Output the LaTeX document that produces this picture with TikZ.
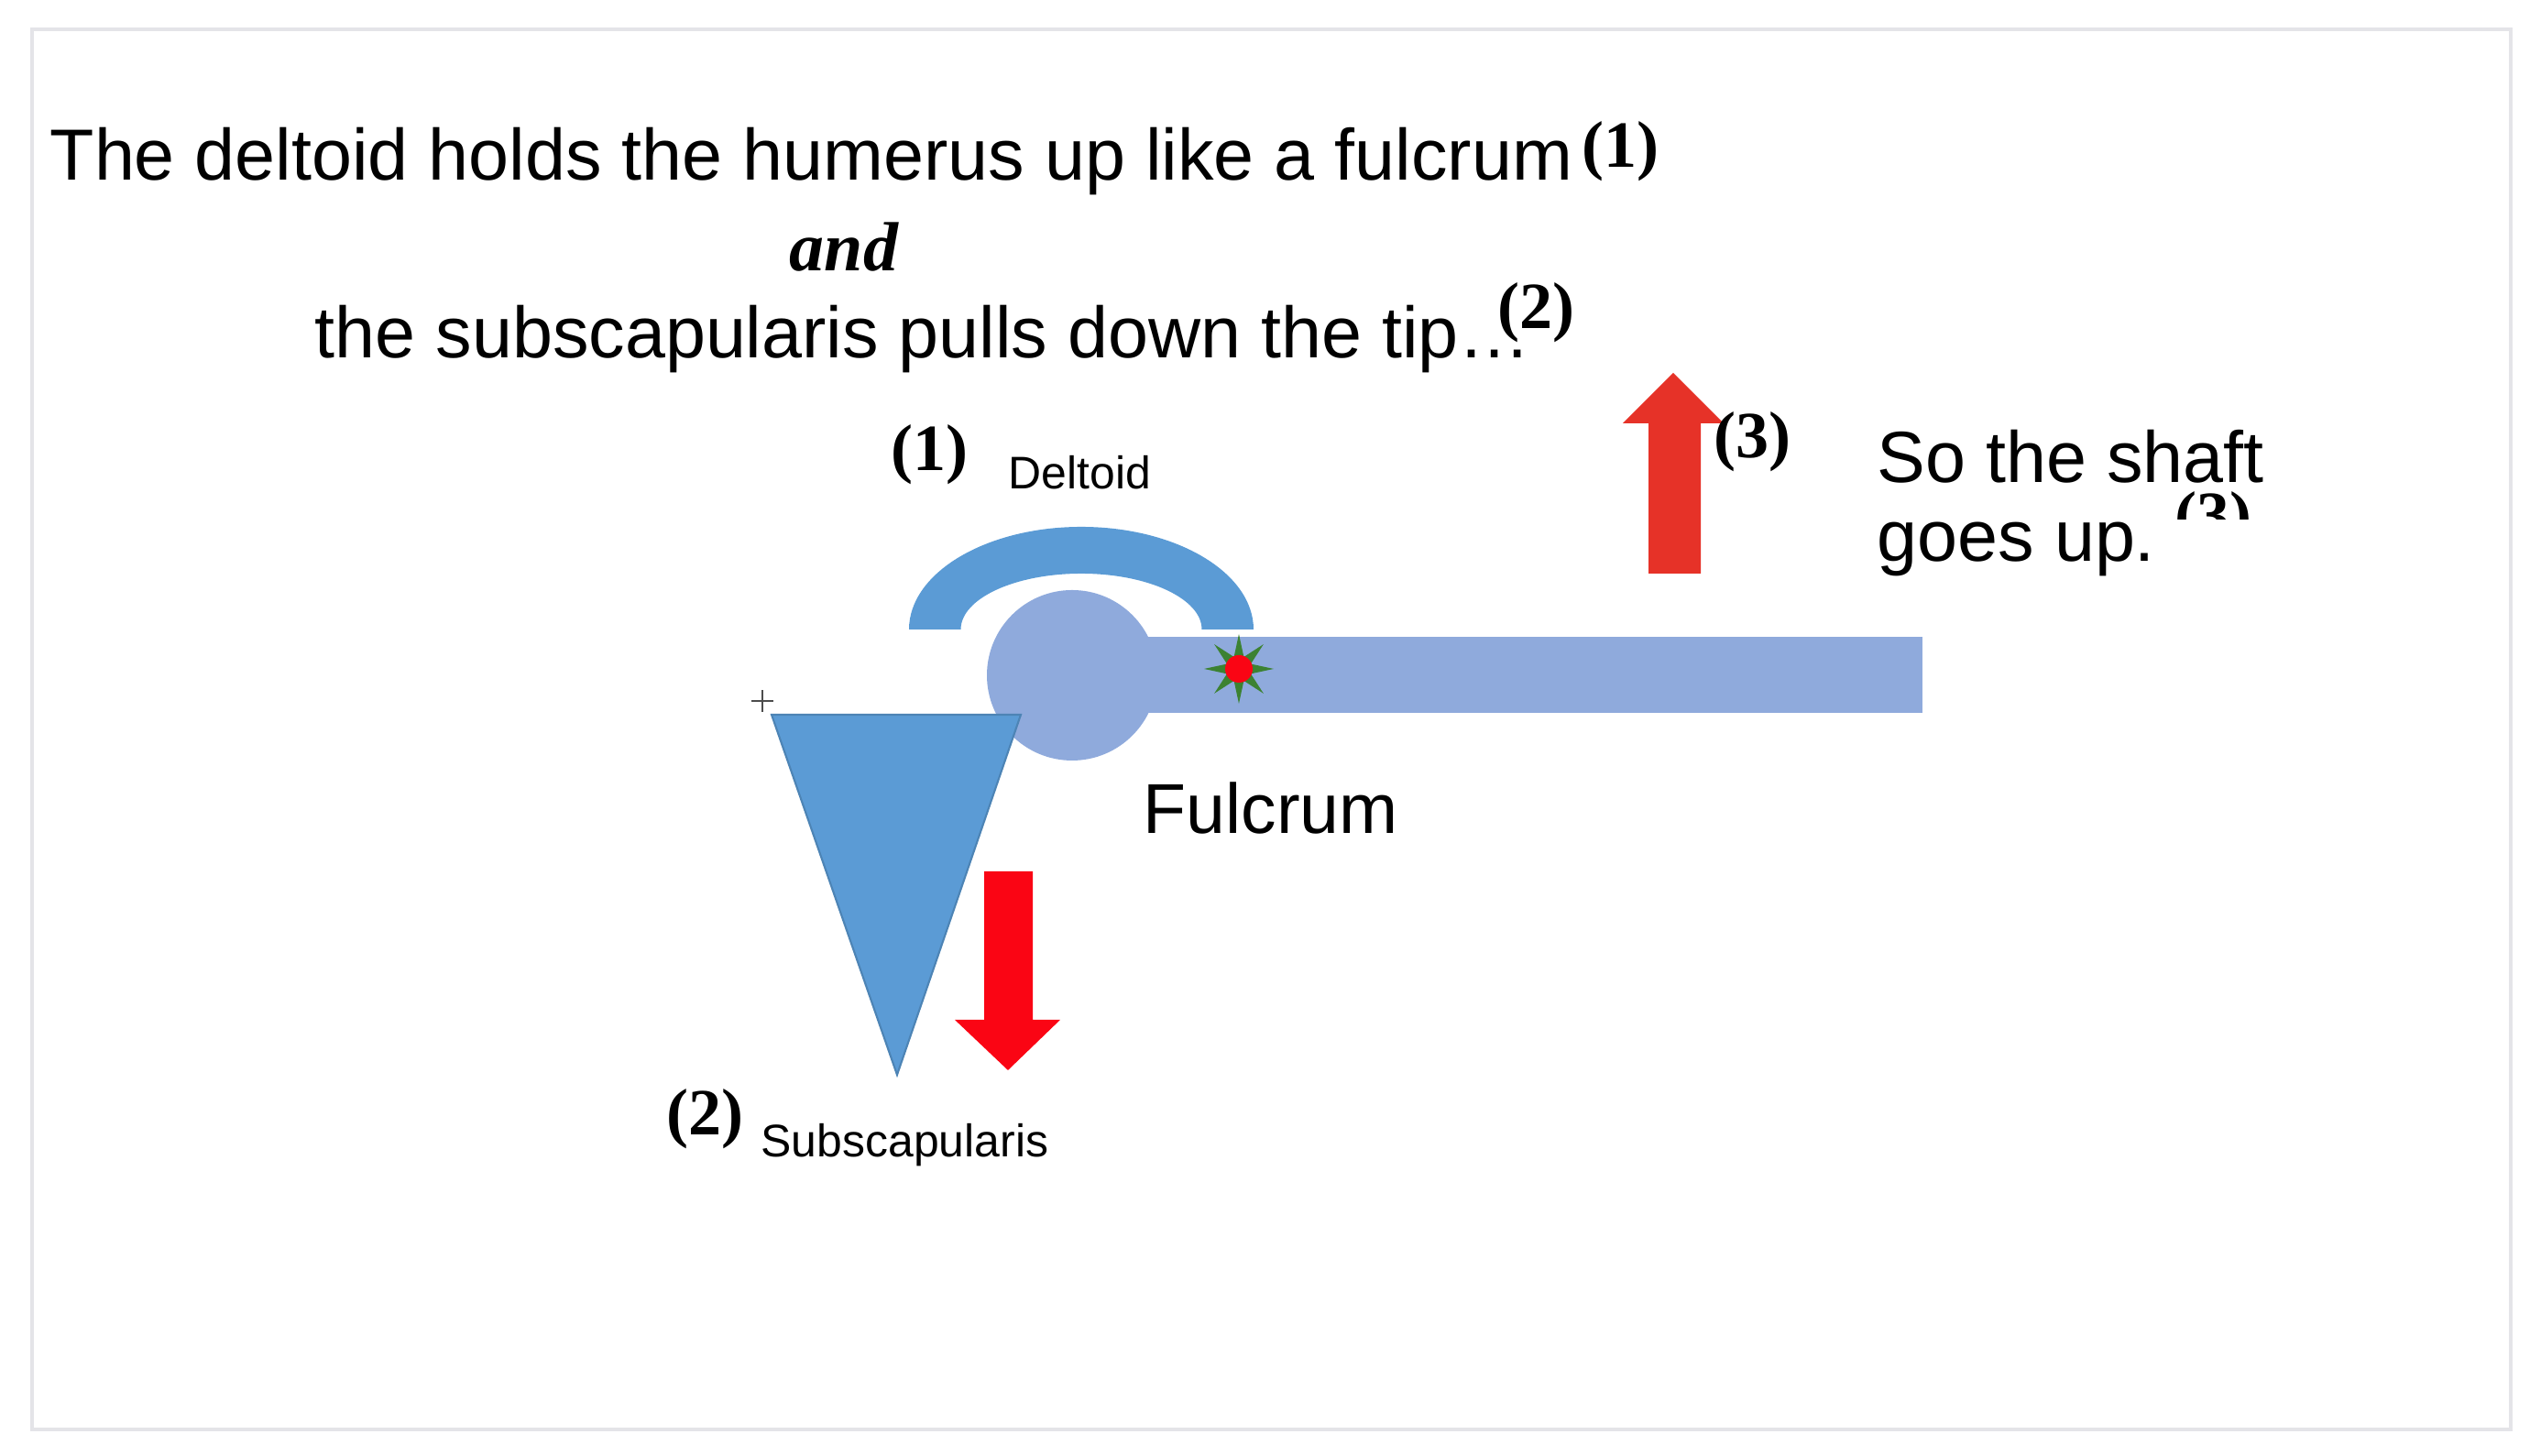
\documentclass[tikz,border=0pt]{standalone}
\usepackage{fontspec}
\setmainfont{Liberation Sans}
\newfontfamily\numfont{Liberation Serif}
\usepackage{tikz}
\usetikzlibrary{positioning,calc,shapes.geometric}
\definecolor{deltblue}{RGB}{91,155,213}
\definecolor{headblue}{RGB}{143,170,220}
\definecolor{pullred}{RGB}{250,5,20}
\definecolor{liftred}{RGB}{230,50,40}
\definecolor{stargreen}{RGB}{60,130,50}
\definecolor{framegray}{RGB}{228,228,232}
\tikzset{
  bigtxt/.style={inner sep=0pt, anchor=base west, font=\fontsize{22.5}{24.5}\selectfont},
  smalltxt/.style={inner sep=0pt, anchor=base west, font=\fontsize{14.2}{17}\selectfont},
  numtxt/.style={inner sep=0pt, anchor=base west, font=\numfont\bfseries\fontsize{20.5}{24}\selectfont},
  andtxt/.style={inner sep=0pt, anchor=base, font=\numfont\bfseries\itshape\fontsize{21.6}{24}\selectfont},
  muscle/.style={fill=deltblue},
  bone/.style={fill=headblue},
  pivot/.style={star, star points=8, star point ratio=2.7, fill=stargreen, minimum size=7.6mm, inner sep=0pt},
  pivotdot/.style={circle, fill=pullred, minimum size=3mm, inner sep=0pt},
  liftarrow/.style={fill=liftred},
  pullarrow/.style={fill=pullred}
}

\begin{document}
\begin{tikzpicture}[]
\useasboundingbox (0,0) rectangle (27.61,15.89);
\draw[framegray, line width=1.2pt] (0.35,0.29) rectangle (27.40,15.57);

% heading
\node[bigtxt] (title1) at (0.54,13.92) {The deltoid holds the humerus up like a fulcrum};
\node[numtxt] (num1top) at (17.26,14.06) {(1)};
\node[andtxt] (andword) at (9.21,12.93) {and};
\node[bigtxt] (title2) at (3.43,11.98) {the subscapularis pulls down the tip…};
\node[numtxt] (num2top) at (16.34,12.30) {(2)};

% deltoid, humerus and pivot
\fill[muscle] (9.92,9.02) arc[start angle=180, end angle=0, x radius=1.88, y radius=1.12]
  -- (13.115,9.02) arc[start angle=0, end angle=180, x radius=1.315, y radius=0.61] -- cycle;
\fill[bone] (11.70,8.11) rectangle (20.98,8.94);
\fill[bone] (11.70,8.52) circle[radius=0.93];
\node[pivot] (pivotstar) at (13.52,8.59) {};
\node[pivotdot] (pivotdot) at (pivotstar) {};

% subscapularis
\filldraw[muscle, draw=deltblue!85!black, line width=0.6pt] (8.42,8.09) -- (11.14,8.09) -- (9.79,4.16) -- cycle;
\draw[black!70, line width=0.5pt] (8.20,8.24) -- (8.44,8.24) (8.32,8.12) -- (8.32,8.36);

% forces
\fill[pullarrow] (10.74,6.38) -- (11.27,6.38) -- (11.27,4.76) -- (11.57,4.76) -- (11.00,4.21)
  -- (10.42,4.76) -- (10.74,4.76) -- cycle;
\fill[liftarrow] (17.99,9.63) -- (18.56,9.63) -- (18.56,11.27) -- (18.81,11.27) -- (18.26,11.82)
  -- (17.71,11.27) -- (17.99,11.27) -- cycle;

% labels
\node[numtxt] (num1) at (9.72,10.75) {(1)};
\node[smalltxt] (deltlbl) at (11.00,10.55) {Deltoid};
\node[numtxt] (num3) at (18.70,10.89) {(3)};
\node[bigtxt, align=left] (shafttxt) at (20.48,9.76) {So the shaft\\goes up.};
\begin{scope}
  \clip (23.60,10.22) rectangle (24.70,10.62);
  \node[numtxt] (num3cut) at (23.73,10.02) {(3)};
\end{scope}
\node[bigtxt, font=\fontsize{21.9}{24}\selectfont] (fulcrum) at (12.47,6.79) {Fulcrum};
\node[numtxt] (num2) at (7.27,3.50) {(2)};
\node[smalltxt] (subslbl) at (8.30,3.26) {Subscapularis};
\end{tikzpicture}
\end{document}
